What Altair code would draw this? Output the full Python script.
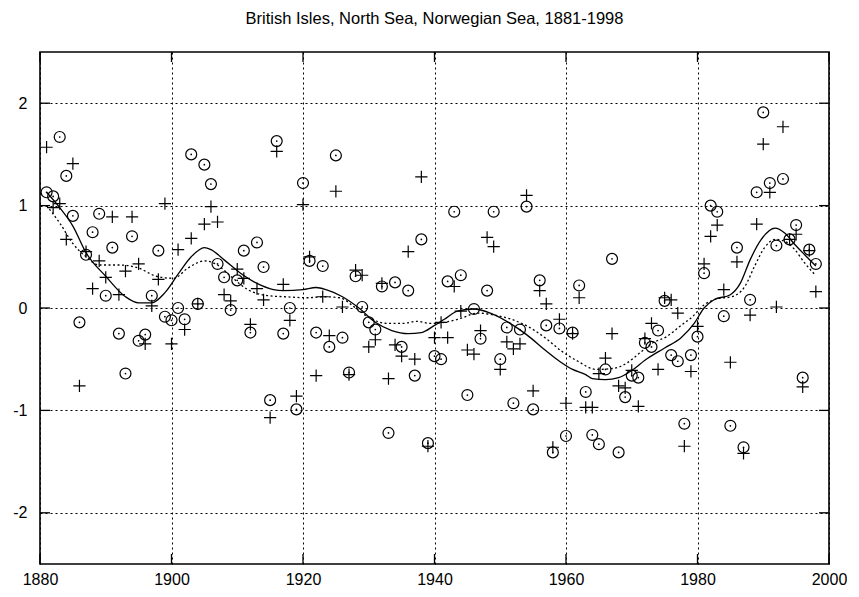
import altair as alt
import pandas as pd

# ---------------- data ----------------
years = list(range(1881, 1999))

circle_vals = [
    1.13, 1.09, 1.67, 1.29, 0.90, -0.14, 0.52, 0.74, 0.92, 0.12,
    0.59, -0.25, -0.64, 0.70, -0.32, -0.26, 0.12, 0.56, -0.085, -0.12,
    0.00, -0.11, 1.50, 0.04, 1.40, 1.21, 0.43, 0.30, -0.02, 0.27,
    0.56, -0.24, 0.64, 0.40, -0.90, 1.63, -0.25, 0.00, -0.99, 1.22,
    0.46, -0.24, 0.41, -0.38, 1.49, -0.29, -0.63, 0.31, 0.01, -0.14,
    -0.21, 0.21, -1.22, 0.25, -0.38, 0.17, -0.66, 0.67, -1.32, -0.47,
    -0.50, 0.26, 0.94, 0.32, -0.85, -0.01, -0.30, 0.17, 0.94, -0.50,
    -0.19, -0.93, -0.21, 0.99, -0.99, 0.27, -0.17, -1.41, -0.20, -1.25,
    -0.24, 0.22, -0.82, -1.24, -1.33, -0.60, 0.48, -1.41, -0.87, -0.66,
    -0.68, -0.34, -0.38, -0.22, 0.07, -0.46, -0.52, -1.13, -0.46, -0.28,
    0.34, 1.00, 0.94, -0.08, -1.15, 0.59, -1.36, 0.08, 1.13, 1.91,
    1.22, 0.61, 1.26, 0.67, 0.81, -0.68, 0.57, 0.43,
]

plus_vals = [
    1.57, 0.98, 1.02, 0.67, 1.41, -0.76, 0.55, 0.19, 0.46, 0.30,
    0.89, 0.13, 0.36, 0.89, 0.43, -0.35, 0.02, 0.28, 1.02, -0.35,
    0.57, -0.21, 0.68, 0.04, 0.82, 0.99, 0.84, 0.13, 0.07, 0.38,
    0.29, -0.16, 0.19, 0.08, -1.07, 1.53, 0.23, -0.12, -0.86, 1.01,
    0.50, -0.66, 0.11, -0.27, 1.14, 0.01, -0.65, 0.37, 0.32, -0.38,
    -0.31, 0.24, -0.69, -0.36, -0.47, 0.55, -0.50, 1.28, -1.35, -0.29,
    -0.14, -0.29, 0.21, -0.03, -0.41, -0.45, -0.22, 0.69, 0.60, -0.60,
    -0.33, -0.40, -0.35, 1.10, -0.81, 0.17, 0.04, -1.36, -0.11, -0.93,
    -0.25, 0.10, -0.97, -0.97, -0.64, -0.49, -0.25, -0.76, -0.78, -0.61,
    -0.96, -0.30, -0.15, -0.60, 0.10, 0.08, -0.05, -1.35, -0.62, -0.18,
    0.43, 0.70, 0.81, 0.18, -0.53, 0.45, -1.42, -0.07, 0.82, 1.60,
    1.13, 0.01, 1.77, 0.67, 0.72, -0.77, 0.56, 0.16,
]

solid_years = [1881, 1883, 1885, 1887, 1890, 1893, 1895, 1897, 1899, 1901,
               1903, 1905, 1906, 1908, 1910.5, 1913, 1915.5, 1917, 1920, 1922,
               1923.5, 1926, 1928.5, 1931, 1933.5, 1936, 1938, 1940, 1941.5, 1943.5,
               1946, 1948.5, 1951.5, 1954, 1957, 1959, 1961, 1963, 1964, 1966,
               1968, 1970, 1972, 1975, 1977.5, 1979.5, 1981, 1982.5, 1985, 1986.5,
               1988, 1989.7, 1991.8, 1993.3, 1994.8, 1996.3, 1998]
solid_vals = [1.13, 0.98, 0.80, 0.54, 0.31, 0.11, 0.05, 0.05, 0.15, 0.33,
              0.50, 0.59, 0.57, 0.47, 0.34, 0.24, 0.18, 0.17, 0.18, 0.20,
              0.18, 0.11, 0.00, -0.14, -0.22, -0.25, -0.24, -0.17, -0.11, -0.03,
              -0.01, -0.05, -0.15, -0.26, -0.42, -0.52, -0.60, -0.65, -0.69, -0.70,
              -0.68, -0.61, -0.51, -0.39, -0.29, -0.15, 0.00, 0.08, 0.13, 0.24,
              0.47, 0.67, 0.78, 0.73, 0.62, 0.52, 0.41]

dotted_years = [1881, 1883, 1885, 1887, 1889, 1892, 1895, 1897.7, 1900.3, 1902.5,
                1905, 1907, 1909, 1911.6, 1914.7, 1917.2, 1920.8, 1923, 1925.6, 1928,
                1930.2, 1932.7, 1935.2, 1937.3, 1939.3, 1941.5, 1943.6, 1946.6, 1949.2, 1951.7,
                1954.2, 1956.8, 1959.3, 1961.8, 1964.6, 1967.2, 1969.2, 1971.2, 1973.2, 1975.3,
                1977.3, 1979.3, 1981, 1983, 1985.2, 1987.2, 1988.7, 1990.2, 1991.8, 1993.3,
                1994.8, 1996.3, 1997.8]
dotted_vals = [1.00, 0.83, 0.63, 0.50, 0.42, 0.42, 0.39, 0.31, 0.29, 0.39,
               0.46, 0.42, 0.31, 0.18, 0.12, 0.11, 0.10, 0.11, 0.10, 0.00,
               -0.10, -0.15, -0.15, -0.13, -0.15, -0.14, -0.11, -0.05, -0.07, -0.11,
               -0.18, -0.29, -0.42, -0.52, -0.60, -0.59, -0.54, -0.44, -0.34, -0.28,
               -0.18, -0.08, 0.03, 0.09, 0.11, 0.21, 0.41, 0.59, 0.67, 0.65,
               0.57, 0.44, 0.33]

x_ticks = [1880, 1900, 1920, 1940, 1960, 1980, 2000]
y_ticks = [-2, -1, 0, 1, 2]
title_text = "British Isles, North Sea, Norwegian Sea, 1881-1998"

# ---------------- chart ----------------
W, H = 789, 512
FONT = "Liberation Sans"

pts = pd.DataFrame({"year": years, "circ": circle_vals, "plus": plus_vals})
solid_df = pd.DataFrame({"year": solid_years, "v": solid_vals})
dotted_df = pd.DataFrame({"year": dotted_years, "v": dotted_vals})
xt_df = pd.DataFrame({"t": x_ticks})
yt_df = pd.DataFrame({"t": y_ticks})

xs = alt.Scale(domain=[1880, 2000], nice=False, zero=False)
ys = alt.Scale(domain=[-2.5, 2.5], nice=False, zero=False)

xaxis = alt.Axis(values=x_ticks, format="d", grid=True, gridDash=[2, 3], gridColor="black",
                 gridOpacity=1, gridWidth=1, tickSize=0, domain=False, labelFontSize=16,
                 labelFont=FONT, labelColor="black", labelPadding=7, labelFlush=False,
                 title=None)
yaxis = alt.Axis(values=y_ticks, grid=True, gridDash=[2, 3], gridColor="black",
                 gridOpacity=1, gridWidth=1, tickSize=0, domain=False, labelFontSize=16,
                 labelFont=FONT, labelColor="black", labelPadding=13, labelFlush=False,
                 labelExpr="datum.value < 0 ? '-' + abs(datum.value) : '' + datum.value",
                 title=None)

base = alt.Chart(pts)

circles = base.mark_point(shape="circle", filled=False, size=120, color="black",
                          strokeWidth=1.2, opacity=1).encode(
    x=alt.X("year:Q", scale=xs, axis=xaxis),
    y=alt.Y("circ:Q", scale=ys, axis=yaxis),
)
dots = base.mark_point(shape="circle", filled=True, size=3, color="black", opacity=1).encode(
    x=alt.X("year:Q", scale=xs),
    y=alt.Y("circ:Q", scale=ys),
)
plus = base.mark_point(shape="M-1,0L1,0M0,-1L0,1", filled=False, size=150, color="black",
                       strokeWidth=1.2, opacity=1).encode(
    x=alt.X("year:Q", scale=xs),
    y=alt.Y("plus:Q", scale=ys),
)
solid = alt.Chart(solid_df).mark_line(color="black", strokeWidth=1.3,
                                      interpolate="monotone").encode(
    x=alt.X("year:Q", scale=xs),
    y=alt.Y("v:Q", scale=ys),
)
dotted = alt.Chart(dotted_df).mark_line(color="black", strokeWidth=1.3, strokeDash=[2, 2.5],
                                        interpolate="monotone").encode(
    x=alt.X("year:Q", scale=xs),
    y=alt.Y("v:Q", scale=ys),
)

TL = 10
bottom_ticks = alt.Chart(xt_df).mark_rule(color="black", strokeWidth=1.3).encode(
    x=alt.X("t:Q", scale=xs), y=alt.value(H), y2=alt.value(H - TL))
top_ticks = alt.Chart(xt_df).mark_rule(color="black", strokeWidth=1.3).encode(
    x=alt.X("t:Q", scale=xs), y=alt.value(0), y2=alt.value(TL))
left_ticks = alt.Chart(yt_df).mark_rule(color="black", strokeWidth=1.3).encode(
    y=alt.Y("t:Q", scale=ys), x=alt.value(0), x2=alt.value(TL))
right_ticks = alt.Chart(yt_df).mark_rule(color="black", strokeWidth=1.3).encode(
    y=alt.Y("t:Q", scale=ys), x=alt.value(W), x2=alt.value(W - TL))

chart = alt.layer(
    bottom_ticks, top_ticks, left_ticks, right_ticks,
    solid, dotted, circles, dots, plus,
).properties(
    width=W, height=H,
    background="white",
    title=alt.TitleParams(title_text, fontSize=16.5, font=FONT, fontWeight="normal",
                          color="black", anchor="middle", offset=24),
    autosize=alt.AutoSizeParams(type="none"),
    padding={"left": 32, "top": 44, "right": 18, "bottom": 24},
).configure_view(
    stroke="black", strokeWidth=1.6
)

chart.save("out.html", embed_options={"renderer": "svg", "actions": False})
